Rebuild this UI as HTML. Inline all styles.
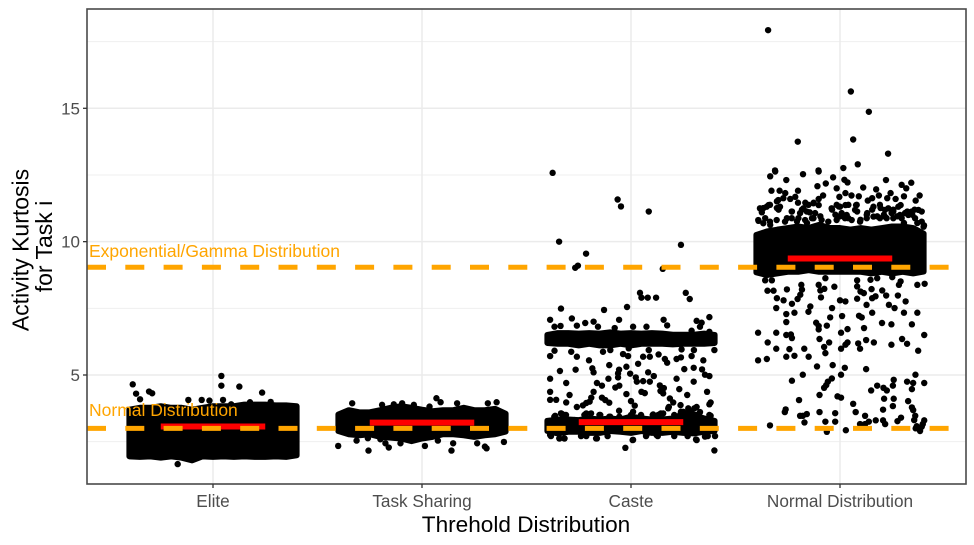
<!DOCTYPE html>
<html lang="en">
<head>
<meta charset="utf-8">
<title>Activity Kurtosis by Threshold Distribution</title>
<style>
  html, body { margin: 0; padding: 0; background: #fff; }
  svg { display: block; font-family: "Liberation Sans", sans-serif; }
</style>
</head>
<body>
<svg id="chart" width="974" height="545" viewBox="0 0 974 545" xmlns="http://www.w3.org/2000/svg">
  <defs>
    <clipPath id="panel-clip"><rect x="87" y="9" width="879" height="475"></rect></clipPath>
  </defs>
  <rect x="0" y="0" width="974" height="545" fill="#fff"></rect>
  <g id="grid"></g>
  <g id="marks" clip-path="url(#panel-clip)"></g>
  <g id="summary"></g>
  <g id="refs" clip-path="url(#panel-clip)"></g>
  <text x="89" y="416" font-size="17.5" fill="#ffa500">Normal Distribution</text>
  <text x="89" y="257" font-size="17.5" fill="#ffa500">Exponential/Gamma Distribution</text>
  <rect x="87" y="9" width="879" height="475" fill="none" stroke="#4a4a4a" stroke-width="1.6"></rect>
  <g id="axes"></g>
  <text x="526" y="532" font-size="22.6" text-anchor="middle" fill="#000">Threhold Distribution</text>
  <text transform="translate(28.5,250) rotate(-90)" font-size="23" text-anchor="middle" fill="#000">Activity Kurtosis</text>
  <text transform="translate(52,246.5) rotate(-90)" font-size="23" text-anchor="middle" fill="#000">for Task i</text>
</svg>
<script>
const categories = ["Elite", "Task Sharing", "Caste", "Normal Distribution"];
const yMajorTicks = [5, 10, 15];
const yMinorTicks = [2.5, 7.5, 12.5, 17.5];
const medians = [3.07, 3.215, 3.235, 9.37];
const referenceValues = [3, 9.04];

/* Positions across each jitter strip where the solid over-plotted clusters were read */
const bandJitter = [-0.4,-0.35,-0.3,-0.25,-0.2,-0.15,-0.1,-0.05,0,0.05,0.1,0.15,0.2,0.25,0.3,0.35,0.4];

const eliteBandUpper = [3.7,3.77,3.77,3.83,3.77,3.77,3.70,3.77,3.83,3.83,3.83,3.89,3.89,3.89,3.86,3.86,3.83];
const eliteBandLower = [1.95,1.93,1.95,1.90,1.95,1.90,1.80,1.95,1.93,1.95,1.93,1.95,1.93,1.93,1.95,1.93,1.99];
const taskBandUpper = [3.52,3.68,3.60,3.60,3.68,3.77,3.83,3.77,3.70,3.64,3.68,3.68,3.77,3.68,3.68,3.73,3.55];
const taskBandLower = [2.9,2.78,2.74,2.78,2.68,2.65,2.62,2.52,2.62,2.68,2.78,2.78,2.74,2.68,2.74,2.78,2.88];
const casteHighBandUpper = [6.5,6.57,6.57,6.55,6.57,6.55,6.60,6.55,6.57,6.55,6.57,6.55,6.51,6.51,6.51,6.55,6.5];
const casteHighBandLower = [6.2,6.17,6.17,6.11,6.17,6.11,6.11,6.17,6.11,6.17,6.17,6.17,6.15,6.17,6.17,6.17,6.2];
const casteLowBandUpper = [3.28,3.33,3.33,3.31,3.37,3.33,3.37,3.33,3.44,3.37,3.33,3.33,3.37,3.44,3.50,3.37,3.28];
const casteLowBandLower = [2.90,2.81,2.87,2.87,2.83,2.83,2.90,2.87,2.83,2.90,2.83,2.83,2.87,2.83,2.81,2.87,2.90];
const normalBandUpper = [10.25,10.38,10.45,10.51,10.57,10.51,10.63,10.51,10.51,10.45,10.51,10.45,10.51,10.57,10.57,10.51,10.3];
const normalBandLower = [8.85,8.75,8.81,8.87,8.87,8.93,8.87,8.87,8.87,8.87,8.87,8.81,8.87,8.81,8.87,8.81,8.88];

/* Individually readable points: [horizontal jitter in category units, kurtosis] */
const elitePoints = [[.04,4.965],[.04,4.6],[.126,4.565],[.235,4.34],[-.384,4.65],[-.368,4.3],[-.306,4.38],[-.291,4.315],[-.349,4.09],[-.118,4.065],[-.054,4.065],[-.017,4.04],[.048,4.065],[.087,3.9],[.276,3.99],[.177,3.98],[-.169,1.66]];

const taskPoints = [[-.401,2.34],[-.334,3.94],[-.256,2.165],[-.159,2.28],[.014,2.34],[.141,2.165],[.149,2.44],[.301,2.315],[.309,2.25],[.392,2.49],[.069,4.13],[.089,3.98],[.036,3.815],[.168,3.94],[.315,3.94],[.357,3.98],[-.095,3.94],[-.135,3.9],[-.191,3.88],[-.039,3.88],[-.313,2.54],[-.259,2.63],[-.199,2.59],[-.175,2.44],[-.103,2.44],[.076,2.54],[.264,2.44]];

const castePoints = [[-.375,12.58],[-.064,11.58],[-.048,11.32],[.085,11.13],[-.344,10],[-.215,9.55],[-.267,9.02],[-.254,9.1],[.152,8.98],[.239,9.88],[.043,8.08],[.05,7.9],[.08,7.9],[.12,7.9],[.262,8.08],[.281,7.85],[-.335,7.49],[-.129,7.44],[-.019,7.55],
[-.387,7.07],[-.283,7.12],[-.057,7.07],[.156,7.07],[.375,7.17],[-.219,6.95],[-.179,7],[.314,7.03],[.338,6.96],[-.366,6.81],[-.337,6.84],[-.259,6.85],[-.158,6.81],[-.078,6.76],[.01,6.81],[.074,6.81],[.173,6.86],[.33,6.81],[.375,6.62],[.29,6.66],
[-.387,5.71],[-.366,5.91],[-.286,5.87],[-.259,5.685],[-.134,5.87],[-.099,5.935],[-.038,5.785],[-.014,5.71],[-.011,6],[.058,5.685],[.09,5.685],[.085,5.935],[.132,5.77],[.162,5.6],[.173,5.46],[.218,5.6],[.239,5.66],[.242,5.96],[.29,5.71],[.301,5.935],[.346,5.55],[.399,5.935],
[-.201,5.55],[-.104,5.37],[-.022,5.31],[.034,5.42],[-.34,5.15],[-.265,5.2],[-.185,5.25],[-.179,5.1],[-.057,5.2],[-.062,5.06],[-.004,5.05],[.082,5.1],[.109,4.96],[.255,5.22],[.3,5.27],[.34,5.21],[.354,5.01],[.375,4.96],
[-.387,4.86],[-.31,4.7],[-.163,4.7],[-.139,4.6],[-.108,4.86],[-.062,4.91],[-.056,4.6],[-.075,4.53],[.023,4.91],[.028,4.75],[.058,4.77],[.09,4.75],[.218,4.86],[.3,4.75],[.138,4.61],[.157,4.51],[.141,4.4],[.154,4.31],[.231,4.47],[.364,4.37],
[-.387,4.37],[-.294,4.25],[-.179,4.37],[-.022,4.285],[.05,4.37],[.066,4.32],[.269,4.25],[-.387,4.07],[-.358,4.07],[-.31,3.97],[-.19,4.15],[-.198,4],[-.214,3.95],[-.23,3.86],[-.259,3.8],[-.139,4.15],[-.123,4.06],[-.104,3.96],[0,4.02],[.018,3.85],[-.057,3.66],[.186,4.12],[.202,3.97],[.181,3.8],[.237,3.87],[.381,3.97],[.375,3.9],
[.01,3.62],[.154,3.56],[.178,3.75],[.106,3.52],[.13,3.5],[.314,3.8],[.33,3.61],[.274,3.75],[.29,3.62],[-.334,3.56],[-.318,3.5],[-.363,3.47],[-.214,3.56],[-.147,3.5],[-.099,3.435],[.05,3.435],[.381,3.47],[.25,3.62],[.234,3.5],
[-.027,2.27],[.399,2.17],[.01,2.57],[-.163,2.62],[-.387,2.75],[-.342,2.62],[-.318,2.62],[.314,2.56],[.354,2.69],[.402,2.71],[.122,2.75],[-.214,2.71],[.074,2.75],
[-.367,3.435],[-.335,3.56],[-.311,3.5],[-.223,3.5],[-.191,3.56],[-.151,3.5],[-.104,3.435],[-.056,3.435],[0,3.5],[.048,3.5],[.104,3.5],[.143,3.56],[.207,3.5],[.239,3.62],[.271,3.56],[.303,3.75],[.311,3.5],[.375,3.5],[-.271,3.31],
[-.343,2.62],[-.319,2.62],[-.167,2.62],[.008,2.56],[.311,2.585],[-.383,2.71],[-.239,2.71],[-.112,2.71],[.072,2.71],[.128,2.71],[.207,2.71],[.271,2.71],[.367,2.71]];

const normalPoints = [[-.344,17.93],[.052,15.63],[.138,14.87],[-.202,13.75],[.063,13.83],[.23,13.3],[.085,12.9],[.016,12.76],[-.103,12.67],[-.311,12.67],
[-.31,12.63],[-.334,12.45],[-.177,12.53],[-.102,12.63],[-.257,12.31],[-.033,12.41],[-.068,12.18],[-.108,12.08],[.021,12.32],[.036,12.22],[.111,12.03],[.22,12.31],[.295,12.13],[.341,12.21],[.317,12],[-.328,11.91],[-.289,11.91],[-.262,11.82],[-.201,11.91],[-.016,12],[.173,11.96],[.026,11.82],[-.003,11.68],[.055,11.73],[.09,11.7],[-.238,11.6],[-.214,11.68],[-.302,11.51],[-.081,11.73],[-.102,11.6],[-.166,11.46],[-.201,11.46],[.186,11.73],[.154,11.63],[.133,11.54],[.242,11.82],[.226,11.63],[.306,11.7],[.266,11.6],[.381,11.73],[.362,11.54],
[-.302,11.26],[-.342,11.37],[-.366,11.26],[-.374,11.1],[-.102,11.37],[-.126,11.46],[-.145,11.1],[-.182,11.2],[-.23,11.13],[-.294,11.2],[.026,11.37],[.077,11.37],[.082,11.13],[-.038,11.2],[-.006,11.32],[-.022,11.01],[.29,11.37],[.255,11.2],[.194,11.26],[.154,11.2],[.322,11.13],[.357,11.2],[.391,11.13],
[-.39,10.78],[-.358,10.88],[-.254,10.88],[-.206,10.76],[-.134,10.88],[-.094,10.95],[0,10.95],[.04,10.88],[.13,11.07],[.098,10.82],[.178,10.95],[.21,11.01],[.274,10.95],[.346,11.01],[.306,10.7],[.37,10.7],[-.334,10.63],[-.158,10.7],[.402,10.61],
[-.391,10.81],[-.367,10.69],[-.335,10.75],[-.303,10.81],[-.263,10.75],[-.231,10.88],[-.199,10.88],[-.167,10.81],[-.127,10.88],[-.088,10.81],[-.056,10.75],[-.016,10.81],[.024,10.88],[.056,10.81],[.096,10.75],[.128,10.88],[.16,10.94],[.191,10.88],[.223,10.88],[.255,10.88],[.295,10.88],[.327,11],[.359,10.88],[.391,10.75],[.4,10.56],
[-.375,11.19],[-.351,11.31],[-.335,11.38],[-.383,11.25],[-.287,11.31],[-.295,11.56],[-.271,11.63],[-.231,11.13],[-.191,11.07],[-.175,11.25],[-.151,11.38],[-.127,11.44],[-.159,11.13],[-.119,11.07],[-.04,11.25],[-.016,11.38],[0,11.31],[.008,11.07],[.032,11],[.072,11.19],[.08,11.38],[.04,11.38],[.16,11.31],[.191,11.38],[.215,11.19],[.231,11.25],[.247,11.07],[.279,11.31],[.311,11.07],[.343,11.13],[.375,11.19],[.128,11],[.215,10.94],[.255,11.13],[.287,11],
[-.326,8.55],[-.358,8.55],[-.347,8.16],[-.318,8.16],[-.254,8.21],[-.185,8.38],[-.182,8.2],[-.19,8.01],[-.203,7.85],[-.302,7.88],[-.27,7.8],[-.305,7.51],[-.23,7.67],[-.142,7.57],[-.102,8.38],[-.07,8.63],[-.094,8.17],[-.075,8.23],[-.027,8.31],[-.091,7.91],[0,7.8],[.026,7.76],[-.038,7.51],[.082,8.55],[.082,8.32],[.098,8.13],[.114,8.07],[.151,8.22],[.082,7.86],[.127,7.63],[.17,7.95],[.154,7.88],[.202,8.17],[.221,7.98],[.277,7.98],[.282,8.38],[.29,8.51],[.234,7.63],[.261,7.51],[.314,7.76],[.37,8.38],[.405,8.42],[.25,8.67],[.146,8.57],[.178,8.63],
[-.257,7.285],[-.218,7.335],[-.151,7.37],[-.047,7.16],[.01,7.21],[.091,7.22],[.104,7.16],[.154,7.335],[.306,7.335],[.37,7.335],[-.257,6.985],[-.114,6.96],[-.102,6.835],[-.102,6.71],[-.063,6.85],[.036,6.72],[.005,6.585],[.115,6.76],[.201,6.95],[.246,6.9],[.344,6.9],[-.392,6.585],[-.305,6.585],[-.257,6.5],[-.235,6.52],[-.23,6.385],[.403,6.5],[-.098,6.35],[-.052,6.22],[-.076,6.05],[-.346,6.22],[-.305,5.985],[-.242,5.97],[-.171,5.985],[-.07,5.82],[.036,6.22],[.026,6.135],[.005,5.985],[.087,6.185],[.096,5.985],[.125,6.31],[.162,6.22],[.246,6.135],[.297,6.35],[.321,6.17],[.374,5.91],
[-.392,5.55],[-.35,5.6],[-.257,5.685],[-.218,5.72],[-.15,5.685],[-.11,5.32],[-.035,5.37],[.023,5.27],[.125,5.22],[-.178,5.01],[-.23,4.785],[.005,5.01],[-.039,4.87],[-.058,4.75],[-.066,4.62],[-.076,4.52],[.361,5.01],[.257,4.82],[.253,4.6],[.321,4.75],[.35,4.7],[.403,4.7],[.344,4.47],[.149,4.42],[.178,4.6],[.208,4.52],[.224,4.42],[-.098,4.25],[-.012,4.2],[.005,4.15],[-.196,4.06],[.211,4.11],[.257,4.11],[.063,3.92],[.326,4.02],[.253,3.835],[.206,3.7],[.344,3.785],[.35,3.685],
[-.26,3.71],[-.264,3.61],[-.098,3.61],[-.023,3.57],[.075,3.61],[-.191,3.47],[-.178,3.47],[-.159,3.535],[-.17,3.22],[.12,3.47],[.36,3.47],[.355,3.31],[-.07,3.25],[-.023,3.25],[.171,3.3],[.206,3.3],[.292,3.4],[.275,3.27],[.403,3.3],[.216,3.16],[.138,3.25],[.12,3.16],[.096,3.16],[-.335,3.11],[-.063,2.87],[.028,2.93],[.396,3.16],[.391,3.06],[.383,2.9],[.362,3],[.367,3.08]];

const SVG_NS = "http://www.w3.org/2000/svg";
const panelLeft = 87, panelRight = 966, panelTop = 9, panelBottom = 484;
const firstCategoryX = 213, categoryStep = 209;
const yAtFive = 375, pixelsPerUnit = 26.67;

function xScale(categoryIndex, jitter) {
  return firstCategoryX + (categoryIndex + jitter) * categoryStep;
}
function yScale(value) {
  return yAtFive - (value - 5) * pixelsPerUnit;
}
function make(tag, attrs, parent) {
  const el = document.createElementNS(SVG_NS, tag);
  for (const key in attrs) el.setAttribute(key, attrs[key]);
  parent.appendChild(el);
  return el;
}

const grid = document.getElementById("grid");
const marks = document.getElementById("marks");
const summary = document.getElementById("summary");
const refs = document.getElementById("refs");
const axes = document.getElementById("axes");

yMinorTicks.forEach(function (tick) {
  const line = make("line", { x1: panelLeft, x2: panelRight, y1: yScale(tick), y2: yScale(tick), stroke: "#efefef", "stroke-width": 1 }, grid);
  
  
});
yMajorTicks.forEach(function (tick) {
  const line = make("line", { x1: panelLeft, x2: panelRight, y1: yScale(tick), y2: yScale(tick), stroke: "#ebebeb", "stroke-width": 1.5 }, grid);
  
  

  const mark = make("line", { x1: panelLeft - 4, x2: panelLeft, y1: yScale(tick), y2: yScale(tick), stroke: "#333", "stroke-width": 1.3 }, axes);
  
  

  const label = make("text", { x: 80, y: yScale(tick) + 6, "text-anchor": "end", "font-size": 17, fill: "#4d4d4d" }, axes);
  
  
  label.textContent = tick;
});
categories.forEach(function (name, i) {
  const line = make("line", { x1: xScale(i, 0), x2: xScale(i, 0), y1: panelTop, y2: panelBottom, stroke: "#ebebeb", "stroke-width": 1.5 }, grid);
  
  

  const mark = make("line", { x1: xScale(i, 0), x2: xScale(i, 0), y1: panelBottom, y2: panelBottom + 4, stroke: "#333", "stroke-width": 1.3 }, axes);
  
  

  const label = make("text", { x: xScale(i, 0), y: 507, "text-anchor": "middle", "font-size": 17.2, fill: "#4d4d4d" }, axes);
  
  
  label.textContent = name;
});

/* Solid over-plotted clusters: outline of the dot centres, stroked by one dot's diameter */
function drawBand(categoryIndex, upper, lower) {
  const top = upper.map(function (v, i) { return xScale(categoryIndex, bandJitter[i]) + "," + yScale(v); });
  const bottom = lower.map(function (v, i) { return xScale(categoryIndex, bandJitter[i]) + "," + yScale(v); }).reverse();
  const band = make("polygon", { points: top.concat(bottom).join(" "), fill: "#000", stroke: "#000", "stroke-width": 6, "stroke-linejoin": "round" }, marks);
  
  
}
drawBand(0, eliteBandUpper, eliteBandLower);
drawBand(1, taskBandUpper, taskBandLower);
drawBand(2, casteHighBandUpper, casteHighBandLower);
drawBand(2, casteLowBandUpper, casteLowBandLower);
drawBand(3, normalBandUpper, normalBandLower);

function drawPoints(categoryIndex, points) {
  points.forEach(function (p) {
    const dot = make("circle", { cx: xScale(categoryIndex, p[0]), cy: yScale(p[1]), r: 3.2, fill: "#000" }, marks);
    
    
  });
}
drawPoints(0, elitePoints);
drawPoints(1, taskPoints);
drawPoints(2, castePoints);
drawPoints(3, normalPoints);

medians.forEach(function (value, i) {
  const bar = make("line", { x1: xScale(i, -0.25), x2: xScale(i, 0.25), y1: yScale(value), y2: yScale(value), stroke: "#f00", "stroke-width": 6 }, summary);
  
  
});

referenceValues.forEach(function (value) {
  const line = make("line", { x1: panelLeft, x2: panelRight, y1: yScale(value), y2: yScale(value), stroke: "#ffa500", "stroke-width": 5, "stroke-dasharray": "19 19.3" }, refs);
  
  
});
</script>
</body>
</html>
